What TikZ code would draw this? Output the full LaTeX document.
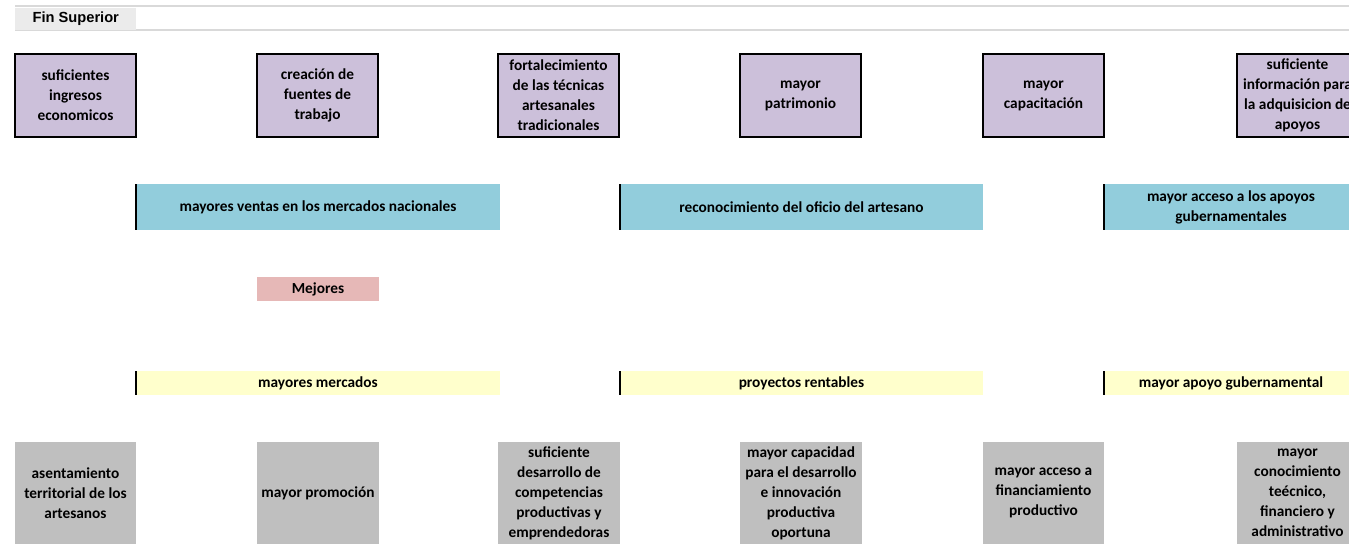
\documentclass[tikz,border=0pt]{standalone}
\usepackage{fontspec}
\setmainfont{Carlito}
\newfontfamily\arialfont{Liberation Sans}
\definecolor{purp}{HTML}{CCC0DA}
\definecolor{blu}{HTML}{92CDDC}
\definecolor{pink}{HTML}{E6B8B7}
\definecolor{yel}{HTML}{FFFFCC}
\definecolor{gry}{HTML}{BFBFBF}
\definecolor{hdr}{HTML}{EBEBEB}
\definecolor{hline}{HTML}{D9D9D9}
\begin{document}
\begin{tikzpicture}[x=0.75pt,y=-0.75pt,
  cell/.style={anchor=north west, inner sep=0pt, outer sep=0pt, align=center,
    font=\bfseries\fontsize{11.5}{15}\selectfont},
  finbox/.style={cell, fill=purp, draw=black, line width=1.5pt,
    minimum width=121*0.75pt, minimum height=83*0.75pt},
  effbox/.style={cell, fill=blu, minimum height=46*0.75pt},
  midbox/.style={cell, fill=pink, minimum width=122*0.75pt, minimum height=24*0.75pt},
  medbox/.style={cell, fill=yel, minimum height=24*0.75pt},
  causebox/.style={cell, fill=gry, minimum width=121*0.75pt, minimum height=102*0.75pt},
  leftrule/.style={line width=1.8pt}
]
\useasboundingbox (0,0) rectangle (1349,543);
\clip (0,0) rectangle (1349,543);
% header
\draw[hline, line width=1.5pt] (15,6) -- (1349,6);
\draw[hline, line width=1.5pt] (15,30) -- (1349,30);
\node[anchor=north west, inner sep=0pt, fill=hdr, minimum width=121*0.75pt, minimum height=22*0.75pt,
  font=\arialfont\bfseries\fontsize{11}{13}\selectfont] (fin) at (15,7.5) {Fin Superior};
% top purple boxes
\node[finbox] (f1) at (15,54) {suficientes\\ingresos\\economicos};
\node[finbox] (f2) at (257,54) {creación de\\fuentes de\\trabajo};
\node[finbox] (f3) at (498,54) {fortalecimiento\\de las técnicas\\artesanales\\tradicionales};
\node[finbox] (f4) at (740,54) {mayor\\patrimonio};
\node[finbox] (f5) at (983,54) {mayor\\capacitación};
\node[finbox] (f6) at (1237,54) {suficiente\\información para\\la adquisicion de\\apoyos};
% blue bars
\node[effbox, minimum width=364*0.75pt] (e1) at (136,184) {mayores ventas en los mercados nacionales};
\node[effbox, minimum width=363*0.75pt] (e2) at (620,184) {reconocimiento del oficio del artesano};
\node[effbox, minimum width=254*0.75pt] (e3) at (1104,184) {mayor acceso a los apoyos\\gubernamentales};
\draw[leftrule] (e1.north west) -- (e1.south west);
\draw[leftrule] (e2.north west) -- (e2.south west);
\draw[leftrule] (e3.north west) -- (e3.south west);
% pink
\node[midbox] (m1) at (257,277) {Mejores};
% yellow bars
\node[medbox, minimum width=364*0.75pt] (y1) at (136,371) {mayores mercados};
\node[medbox, minimum width=363*0.75pt] (y2) at (620,371) {proyectos rentables};
\node[medbox, minimum width=254*0.75pt] (y3) at (1104,371) {mayor apoyo gubernamental};
\draw[leftrule] (y1.north west) -- (y1.south west);
\draw[leftrule] (y2.north west) -- (y2.south west);
\draw[leftrule] (y3.north west) -- (y3.south west);
% gray boxes
\node[causebox] (c1) at (15,442) {asentamiento\\territorial de los\\artesanos};
\node[causebox, minimum width=122*0.75pt] (c2) at (257,442) {mayor promoción};
\node[causebox, minimum width=122*0.75pt] (c3) at (498,442) {suficiente\\desarrollo de\\competencias\\productivas y\\emprendedoras};
\node[causebox, minimum width=122*0.75pt] (c4) at (740,442) {mayor capacidad\\para el desarrollo\\e innovación\\productiva\\oportuna};
\node[causebox] (c5) at (983,442) {mayor acceso a\\financiamiento\\productivo};
\node[causebox] (c6) at (1237,442) {mayor\\conocimiento\\teécnico,\\financiero y\\administrativo};
\end{tikzpicture}
\end{document}
